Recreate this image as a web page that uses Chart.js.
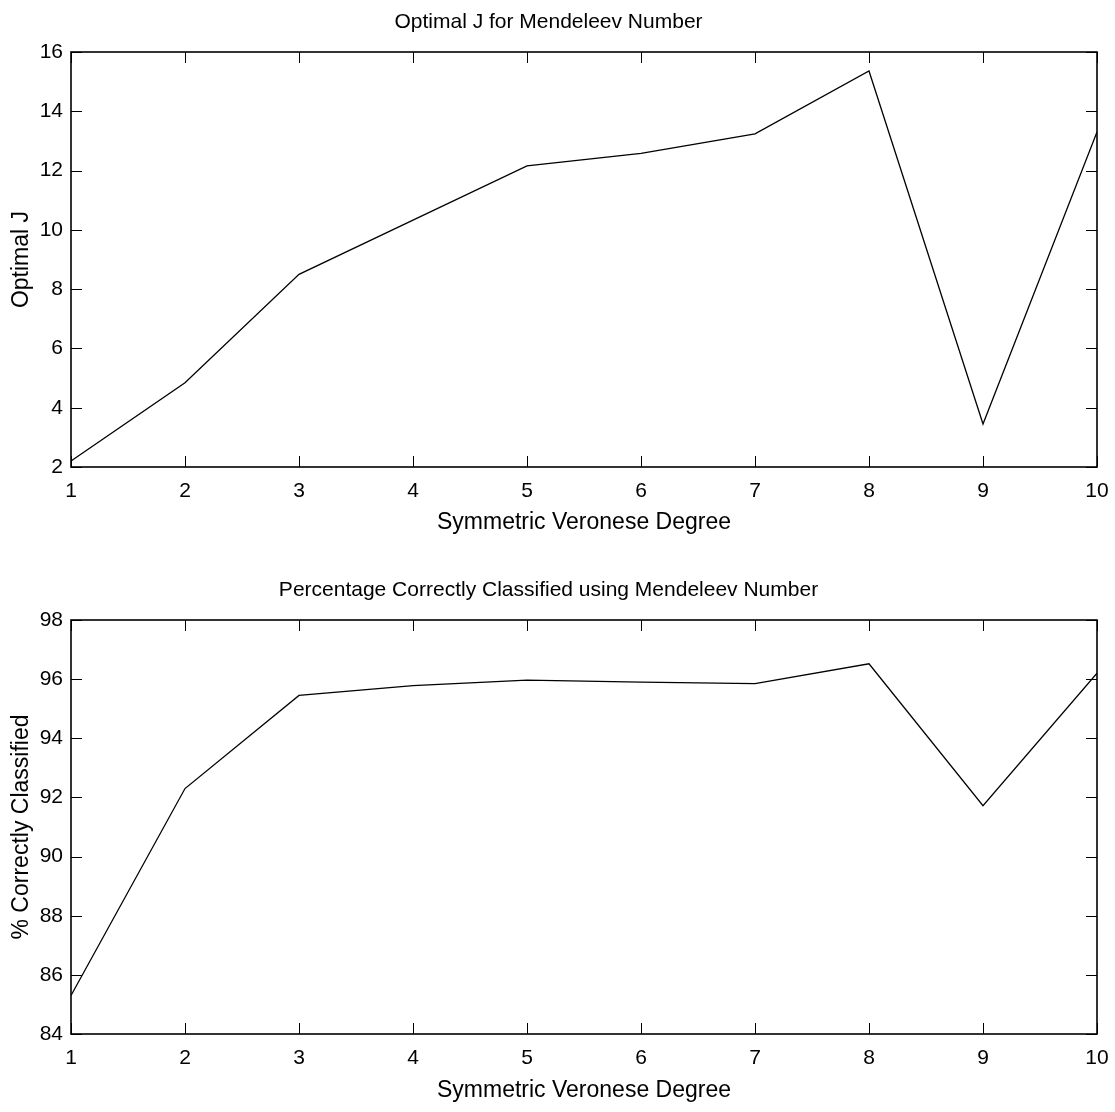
<!DOCTYPE html>
<html>
<head>
<meta charset="utf-8">
<script src="https://cdn.jsdelivr.net/npm/chart.js@4/dist/chart.umd.min.js"></script>
<style>
    html, body { margin: 0; padding: 0; background: #fff; }
    .box { width: 1115px; height: 556px; position: relative; }
</style>
</head>
<body>
<div class="box"><canvas id="jChart"></canvas></div>
<div class="box"><canvas id="pctChart"></canvas></div>
<script>
var degrees = [1, 2, 3, 4, 5, 6, 7, 8, 9, 10];
var optimalJ = [2.2, 4.84, 8.5, 10.33, 12.16, 12.58, 13.24, 15.36, 3.45, 13.3];
var pctCorrect = [85.3, 92.3, 95.45, 95.78, 95.97, 95.9, 95.85, 96.52, 91.72, 96.2];
var jTicks = [2, 4, 6, 8, 10, 12, 14, 16];
var pctTicks = [84, 86, 88, 90, 92, 94, 96, 98];

var FONT = 'Liberation Sans, Arial, Helvetica, sans-serif';

// box round the plot area, ticks pointing inwards on all four sides
var frameTicks = {
    id: 'frameTicks',
    afterDatasetsDraw: function (chart) {
        var a = chart.chartArea, ctx = chart.ctx;
        var xs = chart.scales.x, ys = chart.scales.y;
        var len = 11;
        ctx.save();
        ctx.strokeStyle = '#000';
        ctx.lineWidth = 1;
        ctx.beginPath();
        xs.ticks.forEach(function (t) {
            var px = Math.round(xs.getPixelForValue(t.value)) + 0.5;
            ctx.moveTo(px, a.bottom); ctx.lineTo(px, a.bottom - len);
            ctx.moveTo(px, a.top); ctx.lineTo(px, a.top + len);
        });
        ys.ticks.forEach(function (t) {
            var py = Math.round(ys.getPixelForValue(t.value)) + 0.5;
            ctx.moveTo(a.left, py); ctx.lineTo(a.left + len, py);
            ctx.moveTo(a.right, py); ctx.lineTo(a.right - len, py);
        });
        ctx.stroke();
        ctx.lineWidth = 1.6;
        ctx.strokeRect(a.left, a.top, a.right - a.left, a.bottom - a.top);
        ctx.restore();
    }
};

function makeChart(id, values, yTicks, title, yTitle, opts) {
    var ctx = document.getElementById(id).getContext('2d');
    return new Chart(ctx, {
        type: 'line',
        data: {
            datasets: [{
                data: degrees.map(function (d, i) { return { x: d, y: values[i] }; }),
                borderColor: '#000',
                borderWidth: 1.3,
                pointRadius: 0,
                tension: 0,
                fill: false
            }]
        },
        options: {
            responsive: true,
            maintainAspectRatio: false,
            animation: false,
            layout: { padding: { left: 0, right: 18, top: 0, bottom: 0 } },
            plugins: {
                legend: { display: false },
                tooltip: { enabled: false },
                title: {
                    display: true,
                    text: title,
                    color: '#000',
                    font: { family: FONT, size: 21, weight: 'normal' },
                    padding: opts.titlePad
                }
            },
            scales: {
                x: {
                    type: 'linear',
                    min: 1,
                    max: 10,
                    grid: { display: false, drawTicks: false },
                    border: { display: false },
                    afterBuildTicks: function (s) { s.ticks = degrees.map(function (v) { return { value: v }; }); },
                    afterFit: function (s) {
                        s.height = opts.xHeight;
                        s.paddingLeft = 0;
                        s.paddingRight = 0;
                    },
                    ticks: {
                        color: '#000',
                        padding: 12,
                        maxRotation: 0,
                        font: { family: FONT, size: 21 }
                    },
                    title: {
                        display: true,
                        text: 'Symmetric Veronese Degree',
                        color: '#000',
                        font: { family: FONT, size: 23 },
                        padding: { top: 0, bottom: opts.xTitlePad }
                    }
                },
                y: {
                    min: yTicks[0],
                    max: yTicks[yTicks.length - 1],
                    grid: { display: false, drawTicks: false },
                    border: { display: false },
                    afterBuildTicks: function (s) { s.ticks = yTicks.map(function (v) { return { value: v }; }); },
                    afterFit: function (s) {
                        s.width = 71;
                        s.paddingTop = 0;
                        s.paddingBottom = 0;
                    },
                    ticks: {
                        color: '#000',
                        padding: 8,
                        font: { family: FONT, size: 21 }
                    },
                    title: {
                        display: true,
                        text: yTitle,
                        color: '#000',
                        font: { family: FONT, size: 23 },
                        padding: { top: 8, bottom: 0 }
                    }
                }
            }
        },
        plugins: [frameTicks]
    });
}

makeChart('jChart', optimalJ, jTicks, 'Optimal J for Mendeleev Number', 'Optimal J',
    { titlePad: { top: 9.4, bottom: 17.4 }, xHeight: 89, xTitlePad: 20 });
makeChart('pctChart', pctCorrect, pctTicks, 'Percentage Correctly Classified using Mendeleev Number', '% Correctly Classified',
    { titlePad: { top: 21.4, bottom: 17.4 }, xHeight: 78, xTitlePad: 8 });
</script>
</body>
</html>
